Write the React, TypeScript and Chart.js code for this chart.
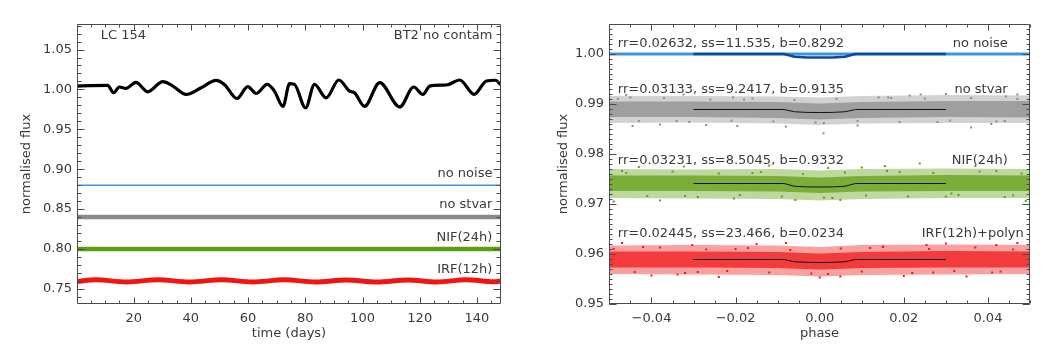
import React, { useEffect, useRef } from 'react';
import { Chart, registerables } from 'chart.js';
Chart.register(...registerables);

// ---------- Left panel data (time series) ----------
const stvarTime = [0.4, 5, 10.9, 13.0, 15, 17.3, 20.8, 24.9, 30.2, 33.7, 38.3, 43.6, 48.8, 51.7, 56.1, 59.9, 62.8, 66.7, 69.2, 72.2, 74.5, 76.2, 80.1, 83.2, 87.3, 91.7, 95.5, 97.2, 100.7, 106, 113, 117.9, 121.1, 123.5, 129.3, 134, 139, 143.3, 146.5, 148.3];
const stvarFlux = [1.0042, 1.0048, 1.0051, 0.9958, 1.003, 1.0013, 1.0089, 0.997, 1.0097, 1.0042, 0.9937, 1.0021, 1.0114, 1.0063, 0.9886, 1.0034, 0.9949, 1.0063, 0.9979, 0.9788, 1.0072, 1.0063, 0.9768, 1.0063, 0.9894, 1.0118, 0.9979, 0.9958, 0.9788, 1.0085, 0.978, 1.003, 0.9937, 1.0042, 1.0055, 1.0118, 0.9937, 1.0106, 1.0115, 1.006];
const flatTime = [0.2, 148.4];
const noNoiseLevel = [0.88, 0.88];
const noStvarLevel = [0.84, 0.84];
const nifLevel = [0.80, 0.80];
const irfTime = [0.2, 6.8, 17.5, 28.4, 39.5, 50.6, 61.6, 72.7, 83.5, 94.3, 105, 115.9, 126, 136.3, 146, 148.4];
const irfFlux = [0.7592, 0.7614, 0.7586, 0.7614, 0.7586, 0.7614, 0.7586, 0.7614, 0.7586, 0.7612, 0.7586, 0.7612, 0.7586, 0.7614, 0.7588, 0.7600];

const leftXTicks = { min: 0.2, max: 148.4, major: 20, minor: 5 };
const leftYTicks = { min: 0.731, max: 1.082, major: 0.05, minor: 0.01 };

// ---------- Right panel data (phase folded) ----------
const envPhase = [-0.05, -0.03, -0.01, 0, 0.01, 0.03, 0.05];
const grayOuterHi = [0.9916, 0.9916, 0.9915, 0.9913, 0.9916, 0.9918, 0.9917];
const grayOuterLo = [0.9862, 0.9863, 0.9861, 0.9858, 0.9861, 0.9862, 0.9862];
const grayInnerHi = [0.9905, 0.9905, 0.9904, 0.9901, 0.9904, 0.9906, 0.9906];
const grayInnerLo = [0.9874, 0.9874, 0.9872, 0.9869, 0.9872, 0.9874, 0.9873];
const greenOuterHi = [0.9770, 0.9769, 0.9770, 0.9767, 0.9770, 0.9771, 0.9770];
const greenOuterLo = [0.9712, 0.9711, 0.9710, 0.9707, 0.9710, 0.9712, 0.9712];
const greenInnerHi = [0.9757, 0.9757, 0.9756, 0.9753, 0.9756, 0.9758, 0.9757];
const greenInnerLo = [0.9726, 0.9726, 0.9725, 0.9722, 0.9725, 0.9726, 0.9726];
const redOuterHi = [0.9617, 0.9618, 0.9617, 0.9614, 0.9618, 0.9619, 0.9618];
const redOuterLo = [0.9560, 0.9559, 0.9558, 0.9555, 0.9558, 0.9559, 0.9560];
const redInnerHi = [0.9605, 0.9605, 0.9604, 0.9601, 0.9604, 0.9606, 0.9605];
const redInnerLo = [0.9573, 0.9573, 0.9572, 0.9569, 0.9572, 0.9573, 0.9573];

const noNoisePhase = [-0.05, 0.05];
const noNoiseFlux = [1.0, 1.0];

const modelPhase = [-0.03, -0.0085, -0.006, -0.003, 0, 0.003, 0.006, 0.0085, 0.03];
const blueModel = [1.0, 1.0, 0.99945, 0.99932, 0.9993, 0.99932, 0.99945, 1.0, 1.0];
const grayModel = [0.9889, 0.9889, 0.98845, 0.98832, 0.9883, 0.98832, 0.98845, 0.9889, 0.9889];
const greenModel = [0.9741, 0.9741, 0.97355, 0.97342, 0.9734, 0.97342, 0.97355, 0.9741, 0.9741];
const redModel = [0.9589, 0.9589, 0.95845, 0.95834, 0.9583, 0.95834, 0.95845, 0.9589, 0.9589];

const grayDotPhase = [-0.0445, -0.0196, 0.0009, 0.036, 0.0408, -0.046, -0.0324, -0.0206, 0.024, 0.0443, 0.0163, 0.0214, -0.038, -0.008, 0.009, 0.03, -0.027, 0.047,
  -0.048, -0.043, -0.037, -0.031, -0.026, -0.021, -0.016, -0.011, -0.006, -0.001, 0.004, 0.009, 0.014, 0.019, 0.025, 0.031, 0.036, 0.042, 0.047, -0.045, -0.034, -0.018, 0.001, 0.017, 0.028, 0.044];
const grayDotFlux = [0.9856, 0.9856, 0.98413, 0.9853, 0.9860, 0.9918, 0.9919, 0.9913, 0.9919, 0.9915, 0.9913, 0.9917, 0.9859, 0.9855, 0.9857, 0.9920, 0.9858, 0.9919,
  0.9910, 0.9866, 0.9912, 0.9864, 0.9909, 0.9867, 0.9911, 0.9865, 0.9908, 0.9863, 0.9910, 0.9866, 0.9913, 0.9864, 0.9911, 0.9867, 0.9912, 0.9865, 0.9910, 0.9913, 0.9866, 0.9909, 0.9862, 0.9912, 0.9864, 0.9866];
const greenDotPhase = [-0.049, -0.0204, -0.0058, 0.0049, 0.0313, 0.049, -0.0323, 0.0155, 0.0238, 0.042, -0.043, -0.012, 0.01, 0.037, -0.038, 0.002,
  -0.046, -0.041, -0.035, -0.029, -0.024, -0.019, -0.014, -0.009, -0.004, 0.001, 0.006, 0.011, 0.016, 0.021, 0.027, 0.033, 0.038, 0.044, 0.048, -0.047, -0.032, -0.016, 0.003, 0.019, 0.03, 0.046];
const greenDotFlux = [0.9705, 0.9711, 0.9708, 0.9708, 0.9721, 0.9706, 0.9775, 0.9776, 0.9781, 0.9766, 0.9774, 0.9777, 0.9773, 0.9776, 0.9707, 0.9772,
  0.9762, 0.9716, 0.9765, 0.9714, 0.9761, 0.9718, 0.9764, 0.9715, 0.9760, 0.9713, 0.9763, 0.9717, 0.9766, 0.9715, 0.9762, 0.9718, 0.9765, 0.9714, 0.9761, 0.9766, 0.9716, 0.9762, 0.9712, 0.9764, 0.9715, 0.9717];
const redDotPhase = [-0.0303, 0.0151, 0.0254, 0.042, 0.0049, 0.0349, -0.0338, -0.047, -0.015, 0.0, 0.02, -0.024, 0.047, -0.04, 0.03, -0.008,
  -0.049, -0.044, -0.038, -0.032, -0.027, -0.022, -0.017, -0.012, -0.007, -0.002, 0.005, 0.01, 0.015, 0.022, 0.026, 0.032, 0.037, 0.041, 0.046, -0.042, -0.029, -0.02, 0.002, 0.012, 0.027, 0.043];
const redDotFlux = [0.9618, 0.9615, 0.9618, 0.9618, 0.9555, 0.9555, 0.9559, 0.9622, 0.9620, 0.9553, 0.9556, 0.9554, 0.9622, 0.9557, 0.9621, 0.9622,
  0.9610, 0.9564, 0.9613, 0.9562, 0.9609, 0.9566, 0.9612, 0.9563, 0.9608, 0.9561, 0.9611, 0.9565, 0.9614, 0.9562, 0.9610, 0.9566, 0.9613, 0.9563, 0.9609, 0.9614, 0.9564, 0.9610, 0.9560, 0.9612, 0.9563, 0.9565];

const rightXTicks = { min: -0.0501, max: 0.05, major: 0.02, minor: 0.005 };
const rightYTicks = { min: 0.95, max: 1.006, major: 0.01, minor: 0.001 };

// ---------- Text labels ----------
const leftLabels = [
  { text: 'LC 154', x: 8.5, y: 1.0676, align: 'left' },
  { text: 'BT2 no contam', x: 145.4, y: 1.0676, align: 'right' },
  { text: 'no noise', x: 145.4, y: 0.8943, align: 'right' },
  { text: 'no stvar', x: 145.4, y: 0.8562, align: 'right' },
  { text: 'NIF(24h)', x: 145.4, y: 0.8138, align: 'right' },
  { text: 'IRF(12h)', x: 145.4, y: 0.7737, align: 'right' },
];
const rightLabels = [
  { text: 'rr=0.02632, ss=11.535, b=0.8292', x: -0.048, y: 1.002, align: 'left' },
  { text: 'no noise', x: 0.0447, y: 1.002, align: 'right' },
  { text: 'rr=0.03133, ss=9.2417, b=0.9135', x: -0.048, y: 0.9928, align: 'left' },
  { text: 'no stvar', x: 0.0447, y: 0.9928, align: 'right' },
  { text: 'rr=0.03231, ss=8.5045, b=0.9332', x: -0.048, y: 0.9786, align: 'left' },
  { text: 'NIF(24h)', x: 0.0447, y: 0.9786, align: 'right' },
  { text: 'rr=0.02445, ss=23.466, b=0.0234', x: -0.048, y: 0.964, align: 'left' },
  { text: 'IRF(12h)+polyn', x: 0.0485, y: 0.964, align: 'right' },
];

const FONT = 'DejaVu Sans';
const TEXT = '#3a3a3a';
const AXIS = '#4a4a4a';
const GRAY = '#8a8a8a';
const GREEN = '#5f9e10';
const RED = '#f01414';
const LBLUE = '#3f95dc';
const DBLUE = '#0c4a98';

const pts = (xs: number[], ys: number[]) => xs.map((x, i) => ({ x, y: ys[i] }));
const rgba = (hex: string, a: number) => {
  const n = parseInt(hex.slice(1), 16);
  return `rgba(${(n >> 16) & 255},${(n >> 8) & 255},${n & 255},${a})`;
};

function makeFramePlugin(cfg: any) {
  return {
    id: 'frameTicks',
    afterDatasetsDraw(chart: any) {
      const { ctx, chartArea: a, scales } = chart;
      const xs = scales.x, ys = scales.y;
      const xt = cfg.xt, yt = cfg.yt;
      ctx.save();
      ctx.strokeStyle = AXIS;
      ctx.lineWidth = 1;
      ctx.beginPath();
      const L = Math.round(a.left) + 0.5, R = Math.round(a.right) - 0.5;
      const T = Math.round(a.top) + 0.5, B = Math.round(a.bottom) - 0.5;
      ctx.moveTo(L, T); ctx.lineTo(R, T); ctx.lineTo(R, B); ctx.lineTo(L, B); ctx.closePath();
      const each = (c: any, step: number, fn: (v: number) => void) => {
        const k0 = Math.ceil(c.min / step - 1e-6), k1 = Math.floor(c.max / step + 1e-6);
        for (let k = k0; k <= k1; k++) fn(k * step);
      };
      const xTick = (len: number) => (v: number) => {
        const p = Math.round(xs.getPixelForValue(v)) + 0.5;
        ctx.moveTo(p, B); ctx.lineTo(p, B - len);
        ctx.moveTo(p, T); ctx.lineTo(p, T + len);
      };
      const yTick = (len: number) => (v: number) => {
        const p = Math.round(ys.getPixelForValue(v)) + 0.5;
        ctx.moveTo(L, p); ctx.lineTo(L + len, p);
        ctx.moveTo(R, p); ctx.lineTo(R - len, p);
      };
      each(xt, xt.minor, xTick(cfg.xMinorLen));
      each(xt, xt.major, xTick(cfg.xMajorLen));
      each(yt, yt.minor, yTick(cfg.yMinorLen));
      each(yt, yt.major, yTick(cfg.yMajorLen));
      ctx.stroke();
      ctx.fillStyle = TEXT;
      ctx.font = `13px "${FONT}"`;
      ctx.textBaseline = 'middle';
      for (const l of cfg.labels) {
        ctx.textAlign = l.align;
        ctx.fillText(l.text, xs.getPixelForValue(l.x), ys.getPixelForValue(l.y));
      }
      ctx.restore();
    },
  };
}

function axes(xt: any, yt: any, xTitle: string, yTitlePad: number, yWidth: number, xFmt: (v: number) => string, yFmt: (v: number) => string) {
  return {
    x: {
      type: 'linear', min: xt.min, max: xt.max,
      grid: { display: false, drawTicks: false }, border: { display: false },
      ticks: { stepSize: xt.major, includeBounds: false, autoSkip: false, maxRotation: 0, padding: 7, color: TEXT, font: { family: FONT, size: 13 }, callback: (v: any) => xFmt(Number(v)) },
      title: { display: true, text: xTitle, color: TEXT, font: { family: FONT, size: 13 }, padding: { top: 0, bottom: 13 } },
      afterFit: (s: any) => { s.height = 50; },
    },
    y: {
      type: 'linear', min: yt.min, max: yt.max,
      grid: { display: false, drawTicks: false }, border: { display: false },
      ticks: { stepSize: yt.major, includeBounds: false, autoSkip: false, padding: 5, color: TEXT, font: { family: FONT, size: 13 }, callback: (v: any) => yFmt(Number(v)) },
      title: { display: true, text: 'normalised flux', color: TEXT, font: { family: FONT, size: 13 }, padding: { top: yTitlePad, bottom: 0 } },
      afterFit: (s: any) => { s.width = yWidth; },
    },
  };
}

const basePlugins = { legend: { display: false }, tooltip: { enabled: false } };

const lineDs = (data: any, color: string, width: number, order: number, extra: any = {}) => ({
  data, borderColor: color, borderWidth: width, pointRadius: 0, fill: false, order, ...extra,
});

function leftConfig(): any {
  return {
    type: 'line',
    data: {
      datasets: [
        lineDs(pts(stvarTime, stvarFlux), '#000000', 3.2, 0, { cubicInterpolationMode: 'monotone' }),
        lineDs(pts(flatTime, noNoiseLevel), LBLUE, 1.5, 0),
        lineDs(pts(flatTime, noStvarLevel), GRAY, 4.5, 0),
        lineDs(pts(flatTime, nifLevel), GREEN, 4.5, 0),
        lineDs(pts(irfTime, irfFlux), RED, 5, 0, { cubicInterpolationMode: 'monotone' }),
      ],
    },
    options: {
      responsive: false,
      animation: false,
      layout: { padding: { left: 0, right: 29, top: 24, bottom: 0 } },
      scales: axes(leftXTicks, leftYTicks, 'time (days)', 19, 77, (v) => String(Math.round(v)), (v) => v.toFixed(2)),
      plugins: basePlugins,
    },
    plugins: [makeFramePlugin({ xt: leftXTicks, yt: leftYTicks, xMajorLen: 6, xMinorLen: 3, yMajorLen: 7, yMinorLen: 4, labels: leftLabels })],
  };
}

function bandSets(lo: number[], hi: number[], color: string, alpha: number, order: number) {
  return [
    { data: pts(envPhase, lo), borderWidth: 0, pointRadius: 0, fill: false, order },
    { data: pts(envPhase, hi), borderWidth: 0, pointRadius: 0, fill: '-1', backgroundColor: rgba(color, alpha), order },
  ];
}

const scatterDs = (xs: number[], ys: number[], color: string) => ({
  data: pts(xs, ys), showLine: false, pointStyle: 'rect', pointRadius: 1.4, pointBackgroundColor: color, pointBorderWidth: 0, order: 1,
});

function rightConfig(): any {
  return {
    type: 'line',
    data: {
      datasets: [
        lineDs(pts(modelPhase, blueModel), DBLUE, 2.5, 0),
        lineDs(pts(modelPhase, grayModel), '#111111', 1, 0),
        lineDs(pts(modelPhase, greenModel), '#111111', 1, 0),
        lineDs(pts(modelPhase, redModel), '#111111', 1, 0),
        lineDs(pts(noNoisePhase, noNoiseFlux), LBLUE, 3, 1),
        scatterDs(grayDotPhase, grayDotFlux, GRAY),
        scatterDs(greenDotPhase, greenDotFlux, GREEN),
        scatterDs(redDotPhase, redDotFlux, RED),
        ...bandSets(grayInnerLo, grayInnerHi, GRAY, 0.7, 2),
        ...bandSets(grayOuterLo, grayOuterHi, GRAY, 0.38, 3),
        ...bandSets(greenInnerLo, greenInnerHi, GREEN, 0.72, 2),
        ...bandSets(greenOuterLo, greenOuterHi, GREEN, 0.4, 3),
        ...bandSets(redInnerLo, redInnerHi, RED, 0.72, 2),
        ...bandSets(redOuterLo, redOuterHi, RED, 0.4, 3),
      ],
    },
    options: {
      responsive: false,
      animation: false,
      layout: { padding: { left: 0, right: 33, top: 24, bottom: 0 } },
      scales: axes(rightXTicks, rightYTicks, 'phase', 26, 79, (v) => v.toFixed(2).replace('-', '\u2212'), (v) => v.toFixed(2)),
      plugins: basePlugins,
    },
    plugins: [makeFramePlugin({ xt: rightXTicks, yt: rightYTicks, xMajorLen: 6, xMinorLen: 3, yMajorLen: 7, yMinorLen: 3, labels: rightLabels })],
  };
}

export default function App() {
  const leftRef = useRef<HTMLCanvasElement>(null);
  const rightRef = useRef<HTMLCanvasElement>(null);
  useEffect(() => {
    document.body.style.margin = '0';
    const c1 = new Chart(leftRef.current as HTMLCanvasElement, leftConfig());
    const c2 = new Chart(rightRef.current as HTMLCanvasElement, rightConfig());
    return () => { c1.destroy(); c2.destroy(); };
  }, []);
  return (
    <div style={{ position: 'relative', width: 1063, height: 354, background: '#fff' }}>
      <canvas ref={leftRef} width={530} height={354} style={{ position: 'absolute', left: 0, top: 0, width: 530, height: 354 }} />
      <canvas ref={rightRef} width={533} height={354} style={{ position: 'absolute', left: 530, top: 0, width: 533, height: 354 }} />
    </div>
  );
}
